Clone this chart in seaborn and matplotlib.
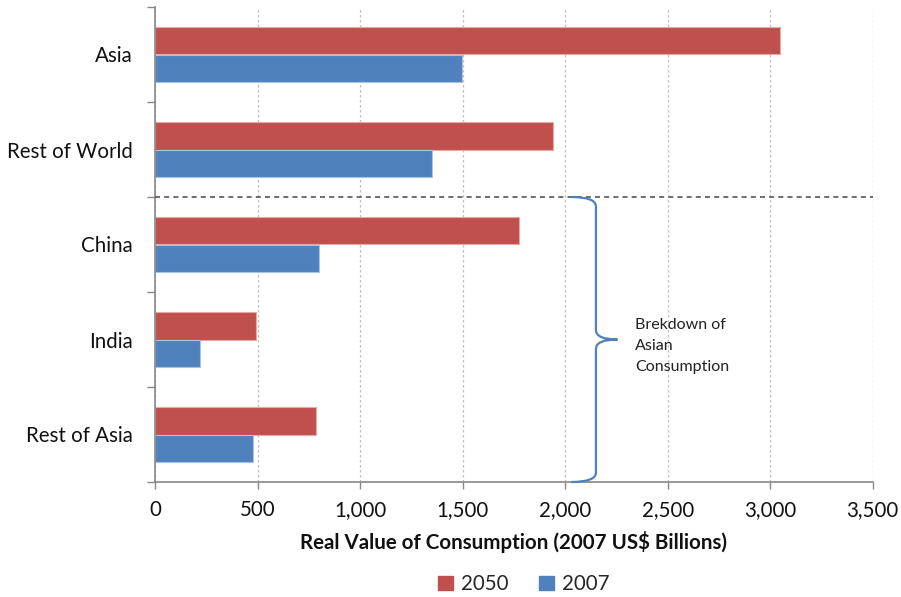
import matplotlib
matplotlib.use("Agg")
import matplotlib.pyplot as plt
from matplotlib.path import Path
from matplotlib.patches import PathPatch, Patch
import seaborn as sns
import pandas as pd

# Consumption by region, 2007 US$ billions
regions = ["Asia", "Rest of World", "China", "India", "Rest of Asia"]
values_2050 = [3050, 1940, 1775, 492, 783]
values_2007 = [1497, 1350, 800, 220, 477]
years = ["2050", "2007"]
year_colors = ["#C0504D", "#4F81BD"]
edge_colors = ["#E8A8A6", "#A9C3E4"]
x_ticks = [0, 500, 1000, 1500, 2000, 2500, 3000, 3500]
x_tick_labels = ["0", "500", "1,000", "1,500", "2,000", "2,500", "3,000", "3,500"]
x_label = "Real Value of Consumption (2007 US$ Billions)"
brace_note = "Brekdown of\nAsian\nConsumption"

df = pd.DataFrame({
    "Region": regions * 2,
    "Value": values_2050 + values_2007,
    "Year": [years[0]] * len(regions) + [years[1]] * len(regions),
})

sns.set_theme(style="white")
plt.rcParams["font.family"] = ["Lato", "DejaVu Sans"]

W, H = 901, 597
fig = plt.figure(figsize=(W / 100, H / 100), dpi=100)
ax = fig.add_axes([155.2 / W, 1 - 482 / H, 717.5 / W, 475 / H])

sns.barplot(data=df, x="Value", y="Region", hue="Year", order=regions,
            hue_order=years, palette=year_colors, orient="h", width=0.57,
            saturation=1, linewidth=0.8, ax=ax, legend=False)
for cont, ec in zip(ax.containers, edge_colors):
    for bar in cont:
        bar.set_edgecolor(ec)

ax.set_xlim(0, 3500)
ax.set_ylim(4.5, -0.5)
ax.set_xticks(x_ticks)
ax.set_xticklabels(x_tick_labels)
ax.set_yticks(range(len(regions)))
ax.set_yticklabels(regions)
ax.set_yticks([i - 0.5 for i in range(len(regions) + 1)], minor=True)

ax.set_xlabel(x_label, fontsize=14.8, fontweight="bold", color="#111111", labelpad=8)
ax.set_ylabel("")

ax.tick_params(axis="x", which="major", length=5, width=1, color="#888888",
               direction="out", pad=8, labelsize=14.8, labelcolor="#111111",
               bottom=True)
ax.tick_params(axis="y", which="major", length=0, pad=16, labelsize=14.8,
               labelcolor="#111111")
ax.tick_params(axis="y", which="minor", length=6, width=1, color="#888888",
               direction="out", left=True)

ax.grid(axis="x", color="#BFBFBF", linestyle=(0, (2, 2)), linewidth=0.9)
ax.set_axisbelow(True)
for side in ["top", "right"]:
    ax.spines[side].set_visible(False)
for side in ["left", "bottom"]:
    ax.spines[side].set_color("#888888")
    ax.spines[side].set_linewidth(1.2)

# separator between regional totals and the Asian breakdown
ax.axhline(1.5, color="#555555", linestyle=(0, (3, 2.5)), linewidth=1.2, zorder=3)

# curly brace spanning the Asian breakdown
x0, x1, xt = 2030, 2150, 2255
ytop, ybot = 1.5, 4.5
ym = (ytop + ybot) / 2
verts = [
    (x0, ytop), (x1, ytop), (x1, ytop + 0.1),
    (x1, ym - 0.1),
    (x1, ym), (xt, ym),
    (x1, ym), (x1, ym + 0.1),
    (x1, ybot - 0.1),
    (x1, ybot), (x0, ybot),
]
codes = [Path.MOVETO, Path.CURVE3, Path.CURVE3, Path.LINETO,
         Path.CURVE3, Path.CURVE3, Path.CURVE3, Path.CURVE3,
         Path.LINETO, Path.CURVE3, Path.CURVE3]
ax.add_patch(PathPatch(Path(verts, codes), facecolor="none",
                       edgecolor="#4F81BD", linewidth=1.6, zorder=4,
                       clip_on=False))
ax.text(2340, 3.07, brace_note, fontsize=11.5, color="#222222",
        va="center", ha="left", linespacing=1.65)

handles = [Patch(facecolor=c, edgecolor=c) for c in year_colors]
fig.legend(handles, years, loc="center", bbox_to_anchor=(524 / W, 1 - 584 / H),
           ncol=2, frameon=False, fontsize=14.8, handlelength=0.7,
           handleheight=0.7, handletextpad=0.4, columnspacing=1.5)

fig.savefig("out.png", dpi=100)
